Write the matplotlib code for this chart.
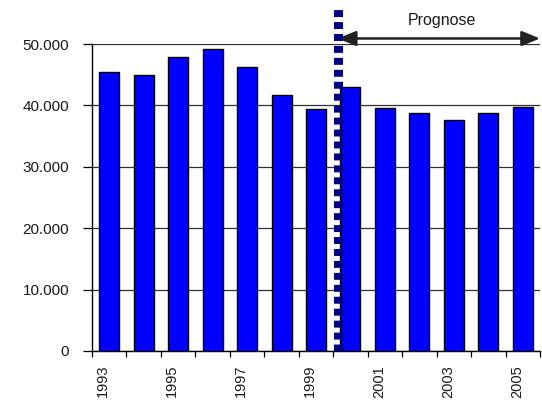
import matplotlib
matplotlib.use("Agg")
import matplotlib.pyplot as plt
from matplotlib.transforms import ScaledTranslation

plt.rcParams['font.family'] = ['Liberation Sans', 'DejaVu Sans']
plt.rcParams['lines.scale_dashes'] = False

years = [1993, 1994, 1995, 1996, 1997, 1998, 1999,
         2000, 2001, 2002, 2003, 2004, 2005]
values = [45400, 45000, 47900, 49200, 46200, 41700, 39400,
          43000, 39600, 38800, 37700, 38800, 39800]
y_ticks = [0, 10000, 20000, 30000, 40000, 50000]
y_labels = ["0", "10.000", "20.000", "30.000", "40.000", "50.000"]
forecast_label = "Prognose"

fig = plt.figure(figsize=(5.42, 4.01), dpi=100)
ax = fig.add_axes([92 / 542, 50 / 401, 448 / 542, 307 / 401])

x = list(range(len(years)))
ax.bar(x, values, width=0.58, color="#0000FF", edgecolor="black",
       linewidth=1.0, zorder=3)

ax.set_xlim(-0.5, len(years) - 0.5)
ax.set_ylim(0, 50000)

# horizontal grid
ax.set_yticks(y_ticks)
ax.set_yticklabels(y_labels, fontsize=11, color="#1a1a1a")
ax.yaxis.grid(True, color="#303030", linewidth=0.9, zorder=0)
ax.tick_params(axis="y", direction="out", length=6.5, width=0.9,
               pad=10, color="black")

# category boundaries as major ticks, year labels as minor ticks
ax.set_xticks([i - 0.5 for i in range(len(years) + 1)])
ax.set_xticklabels([])
ax.tick_params(axis="x", which="major", direction="out", length=4.5,
               width=0.9, color="black")
label_pos = [i for i in x if i % 2 == 0]
ax.set_xticks(label_pos, minor=True)
ax.set_xticklabels([str(years[i]) for i in label_pos], minor=True,
                   rotation=90, fontsize=10.5, color="#1a1a1a")
ax.tick_params(axis="x", which="minor", length=0, pad=10)
shift = ScaledTranslation(-6 / 100, 0, fig.dpi_scale_trans)
for lbl in ax.xaxis.get_minorticklabels():
    lbl.set_transform(lbl.get_transform() + shift)
    lbl.set_va("top")

for side in ("top", "right"):
    ax.spines[side].set_visible(False)
ax.spines["left"].set_linewidth(1.0)
ax.spines["bottom"].set_linewidth(1.0)

# forecast separator
sep_x = 6.63
ax.plot([sep_x, sep_x], [0, 56300], color="#000080", linewidth=6.5,
        dashes=(5.0, 3.6), solid_capstyle="butt", dash_capstyle="butt",
        clip_on=False, zorder=5)

# forecast range arrow
arrow_y = 50900
ax.annotate("", xy=(len(years) - 0.5, arrow_y), xytext=(sep_x, arrow_y),
            xycoords="data", textcoords="data", annotation_clip=False,
            arrowprops=dict(arrowstyle="<|-|>,head_length=1.1,head_width=0.45",
                            color="#222222", linewidth=1.8, shrinkA=0,
                            shrinkB=0, mutation_scale=10))
ax.text(9.64, 53100, forecast_label, ha="center", va="baseline",
        fontsize=11.5, color="#1a1a1a", clip_on=False)

fig.savefig("out.png", dpi=100)
